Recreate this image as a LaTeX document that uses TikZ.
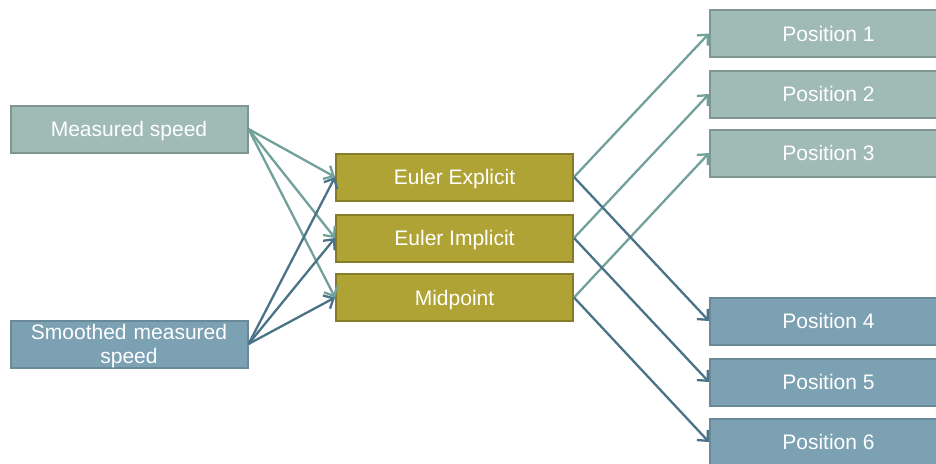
\documentclass[tikz,border=0pt]{standalone}
\usepackage{fontspec}
\setmainfont{Liberation Sans}
\usetikzlibrary{arrows.meta}
\definecolor{lteal}{HTML}{A0BAB6}
\definecolor{ltealb}{HTML}{7E9591}
\definecolor{lblue}{HTML}{7BA1B3}
\definecolor{lblueb}{HTML}{6A8A99}
\definecolor{olive}{HTML}{B0A335}
\definecolor{oliveb}{HTML}{857B28}
\definecolor{arrlt}{HTML}{72A09A}
\definecolor{arrdk}{HTML}{4A7387}
\tikzset{
  box/.style={draw, line width=2pt, minimum height=47pt, minimum width=237pt, inner sep=0pt, text=white,
    font=\fontsize{21}{24}\selectfont, align=center, text height=15pt, text depth=0pt},
  tealbox/.style={box, fill=lteal, draw=ltealb},
  bluebox/.style={box, fill=lblue, draw=lblueb},
  olivebox/.style={box, fill=olive, draw=oliveb},
  conn/.style={line width=2.3pt, -{Straight Barb[length=8pt,width=15pt,line width=2.3pt]}},
  lt/.style={conn, draw=arrlt},
  dk/.style={conn, draw=arrdk}
}
\begin{document}
\begin{tikzpicture}[x=1pt,y=-1pt]
\useasboundingbox (0,0) rectangle (936,463);
% left
\node[tealbox] (ms) at (129,129) {Measured speed};
\node[bluebox, text width=230pt, text depth=24pt] (sm) at (129,344) {Smoothed measured\\speed};
% middle
\node[olivebox] (ee) at (454.5,177) {Euler Explicit};
\node[olivebox] (ei) at (454.5,238) {Euler Implicit};
\node[olivebox] (mp) at (454.5,297.5) {Midpoint};
% right
\node[tealbox] (p1) at (828.5,33.5) {Position 1};
\node[tealbox] (p2) at (828.5,94) {Position 2};
\node[tealbox] (p3) at (828.5,153) {Position 3};
\node[bluebox] (p4) at (828.5,321) {Position 4};
\node[bluebox] (p5) at (828.5,382) {Position 5};
\node[bluebox] (p6) at (828.5,442) {Position 6};
% connectors left
\foreach \t in {ee,ei,mp} {
  \draw[lt] (ms.east) -- (\t.west);
}
\foreach \t in {ee,ei,mp} {
  \draw[dk] (sm.east) -- (\t.west);
}
% connectors right
\draw[lt] (ee.east) -- (p1.west);
\draw[lt] (ei.east) -- (p2.west);
\draw[lt] (mp.east) -- (p3.west);
\draw[dk] (ee.east) -- (p4.west);
\draw[dk] (ei.east) -- (p5.west);
\draw[dk] (mp.east) -- (p6.west);
\end{tikzpicture}
\end{document}
